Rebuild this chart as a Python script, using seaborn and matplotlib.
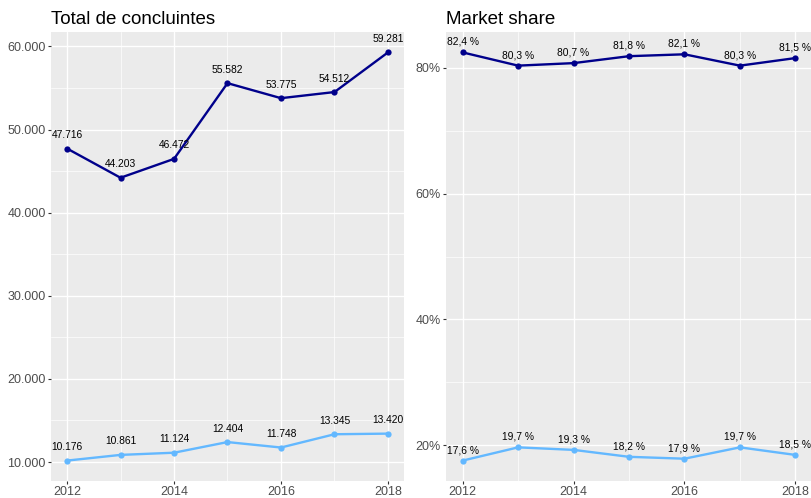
import pandas as pd
import numpy as np
import matplotlib
matplotlib.use("Agg")
import matplotlib.pyplot as plt
from matplotlib.ticker import MultipleLocator, FuncFormatter
import seaborn as sns

# ── data ──
years = [2012, 2013, 2014, 2015, 2016, 2017, 2018]
total_a = [47716, 44203, 46472, 55582, 53775, 54512, 59281]
total_b = [10176, 10861, 11124, 12404, 11748, 13345, 13420]
share_a = [82.4, 80.3, 80.7, 81.8, 82.1, 80.3, 81.5]
share_b = [17.6, 19.7, 19.3, 18.2, 17.9, 19.7, 18.5]

titles = ["Total de concluintes", "Market share"]
dark_blue = "#00008B"
light_blue = "#63B8FF"

sns.set_style("darkgrid", {"axes.facecolor": "#EBEBEB", "grid.color": "white"})
plt.rcParams["font.family"] = ["Liberation Sans", "DejaVu Sans"]

df_total = pd.DataFrame({"year": years * 2, "value": total_a + total_b,
                         "grp": ["a"] * 7 + ["b"] * 7})
df_share = pd.DataFrame({"year": years * 2, "value": share_a + share_b,
                         "grp": ["a"] * 7 + ["b"] * 7})

fig = plt.figure(figsize=(8.12, 4.98), dpi=100)
ax1 = fig.add_axes([51 / 812, 17 / 498, 353 / 812, 449 / 498])
ax2 = fig.add_axes([446 / 812, 17 / 498, 366 / 812, 449 / 498])


def fmt_thousands(v):
    return f"{v:,.0f}".replace(",", ".")


def draw(ax, df, fmt_label, offset, ymajor, yminor, tickfmt, title):
    sns.lineplot(data=df, x="year", y="value", hue="grp",
                 palette={"a": dark_blue, "b": light_blue},
                 marker="o", markersize=4.5, markeredgewidth=0,
                 linewidth=1.7, legend=False, ax=ax)
    for _, r in df.iterrows():
        ax.annotate(fmt_label(r["value"]), (r["year"], r["value"]),
                    xytext=(0, offset), textcoords="offset points",
                    ha="center", va="center", fontsize=7.4, color="black")
    lo, hi = df["value"].min(), df["value"].max()
    pad = (hi - lo) * 0.05
    ax.set_ylim(lo - pad, hi + pad)
    ax.set_xlim(2011.7, 2018.3)
    ax.xaxis.set_major_locator(MultipleLocator(2))
    ax.xaxis.set_minor_locator(MultipleLocator(1))
    ax.yaxis.set_major_locator(MultipleLocator(ymajor))
    ax.yaxis.set_minor_locator(MultipleLocator(yminor))
    ax.yaxis.set_major_formatter(FuncFormatter(lambda v, p: tickfmt(v)))
    ax.grid(which="major", color="white", linewidth=1.0)
    ax.grid(which="minor", color="white", linewidth=0.5)
    ax.tick_params(which="major", length=2.5, width=0.8, color="#333333",
                   labelsize=9, labelcolor="#4D4D4D", pad=1.2,
                   bottom=True, left=True)
    ax.tick_params(which="minor", length=0)
    for s in ax.spines.values():
        s.set_visible(False)
    ax.set_xlabel("")
    ax.set_ylabel("")
    ax.set_title(title, loc="left", fontsize=13.5, pad=6, color="black")


draw(ax1, df_total, fmt_thousands, 9.7, 10000, 5000, fmt_thousands, titles[0])
draw(ax2, df_share, lambda v: f"{v:.1f} %".replace(".", ","), 7.6, 20, 10,
     lambda v: f"{v:.0f}%", titles[1])

fig.savefig("out.png", dpi=100)
plt.close()
